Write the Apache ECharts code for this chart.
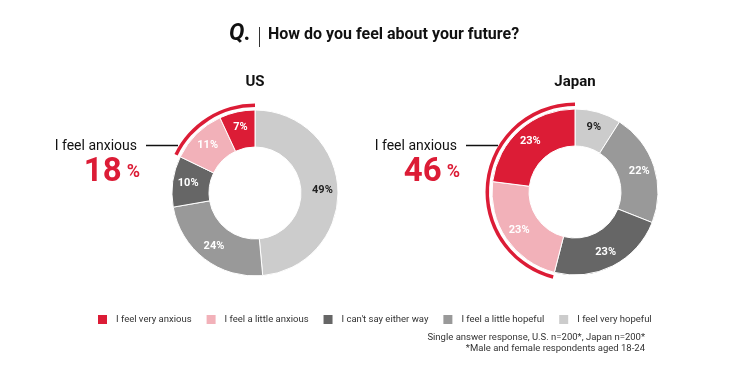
<!DOCTYPE html>
<html>
<head>
<meta charset="utf-8">
<script src="https://cdn.jsdelivr.net/npm/echarts@6/dist/echarts.min.js"></script>
<style>
html,body{margin:0;padding:0;background:#fff;}
#c{width:746px;height:378px;}
</style>
</head>
<body>
<div id="c"></div>
<script>
// ---- data ----
var categories = ['I feel very hopeful', 'I feel a little hopeful', "I can't say either way", 'I feel a little anxious', 'I feel very anxious'];
var legendOrder = ['I feel very anxious', 'I feel a little anxious', "I can't say either way", 'I feel a little hopeful', 'I feel very hopeful'];
var usValues = [49, 24, 10, 11, 7];
var japanValues = [9, 22, 23, 23, 23];
var regions = ['US', 'Japan'];
var anxiousCats = ['I feel a little anxious', 'I feel very anxious'];

var colors = {
  'I feel very hopeful': '#cccccc',
  'I feel a little hopeful': '#999999',
  "I can't say either way": '#666666',
  'I feel a little anxious': '#f2b1b9',
  'I feel very anxious': '#dc1c36'
};
var labelColors = {
  'I feel very hopeful': '#222222',
  'I feel a little hopeful': '#ffffff',
  "I can't say either way": '#ffffff',
  'I feel a little anxious': '#ffffff',
  'I feel very anxious': '#ffffff'
};
var FONT = 'Roboto';
var RED = '#dc1c36';

function anxiousSum(vals) {
  var s = 0;
  categories.forEach(function (c, i) { if (anxiousCats.indexOf(c) >= 0) s += vals[i]; });
  return s;
}
function total(vals) { return vals.reduce(function (a, b) { return a + b; }, 0); }

function donut(vals, cx, cy) {
  return {
    type: 'pie',
    center: [cx, cy],
    radius: [46, 83],
    startAngle: 90,
    clockwise: true,
    silent: true,
    avoidLabelOverlap: false,
    itemStyle: { borderColor: '#ffffff', borderWidth: 1 },
    label: {
      show: true, position: 'inside',
      formatter: '{c}%', fontFamily: FONT, fontWeight: 'bold', fontSize: 11
    },
    labelLine: { show: false },
    data: categories.map(function (c, i) {
      return {
        name: c, value: vals[i],
        itemStyle: { color: colors[c] },
        label: { color: labelColors[c] }
      };
    })
  };
}
function arc(vals, cx, cy) {
  var a = anxiousSum(vals);
  return {
    type: 'pie',
    center: [cx, cy],
    radius: [86, 89.5],
    startAngle: 90,
    clockwise: false,
    silent: true,
    label: { show: false },
    labelLine: { show: false },
    data: [
      { name: 'anxious-arc', value: a, itemStyle: { color: RED } },
      { name: 'rest-arc', value: total(vals) - a, itemStyle: { color: 'rgba(0,0,0,0)' } }
    ]
  };
}

function bigNumber(vals, x) {
  return { type: 'text', x: x, y: 189, style: {
    text: '{a|' + anxiousSum(vals) + '}{b|%}', align: 'right', verticalAlign: 'bottom',
    rich: {
      a: { font: 'bold 33px ' + FONT, fill: RED, padding: [0, 5, 0, 0] },
      b: { font: 'bold 18px ' + FONT, fill: RED, padding: [0, 0, 1, 0] }
    } } };
}

var usC = [255, 193], jpC = [575, 192];

var chart = echarts.init(document.getElementById('c'), null, { renderer: 'canvas' });
chart.setOption({
  backgroundColor: '#ffffff',
  animation: false,
  legend: {
    data: legendOrder,
    left: 96, top: 313, padding: 0,
    itemWidth: 11, itemHeight: 11, itemGap: 13,
    icon: 'rect',
    textStyle: { fontFamily: FONT, fontSize: 9.5, color: '#333', padding: [0, 0, 0, 3] },
    selectedMode: false
  },
  graphic: [
    { type: 'text', left: 229, top: 23, style: { text: 'Q.', font: 'italic bold 23px ' + FONT, fill: '#111' } },
    { type: 'line', shape: { x1: 259.5, y1: 27, x2: 259.5, y2: 47 }, style: { stroke: '#333', lineWidth: 1 } },
    { type: 'text', left: 268, top: 27, style: { text: 'How do you feel about your future?', font: 'bold 16px ' + FONT, fill: '#111' } },
    { type: 'text', x: usC[0], y: 82, style: { text: regions[0], font: 'bold 15px ' + FONT, fill: '#111', align: 'center', verticalAlign: 'middle' } },
    { type: 'text', x: jpC[0], y: 82, style: { text: regions[1], font: 'bold 15px ' + FONT, fill: '#111', align: 'center', verticalAlign: 'middle' } },
    { type: 'line', shape: { x1: 146, y1: 145.5, x2: 178, y2: 145.5 }, style: { stroke: '#111', lineWidth: 1.5 } },
    { type: 'line', shape: { x1: 466, y1: 145.5, x2: 498, y2: 145.5 }, style: { stroke: '#111', lineWidth: 1.5 } },
    { type: 'text', x: 137, y: 146, style: { text: 'I feel anxious', font: '14px ' + FONT, fill: '#111', align: 'right', verticalAlign: 'middle' } },
    { type: 'text', x: 457, y: 146, style: { text: 'I feel anxious', font: '14px ' + FONT, fill: '#111', align: 'right', verticalAlign: 'middle' } },
    bigNumber(usValues, 140),
    bigNumber(japanValues, 460),
    { type: 'text', x: 645, y: 338, style: { text: 'Single answer response, U.S. n=200*, Japan n=200*', font: '9.5px ' + FONT, fill: '#333', align: 'right', verticalAlign: 'middle' } },
    { type: 'text', x: 645, y: 349, style: { text: '*Male and female respondents aged 18-24', font: '9.5px ' + FONT, fill: '#333', align: 'right', verticalAlign: 'middle' } }
  ],
  series: [
    donut(usValues, usC[0], usC[1]),
    donut(japanValues, jpC[0], jpC[1]),
    arc(usValues, usC[0], usC[1]),
    arc(japanValues, jpC[0], jpC[1])
  ]
});
</script>
</body>
</html>
